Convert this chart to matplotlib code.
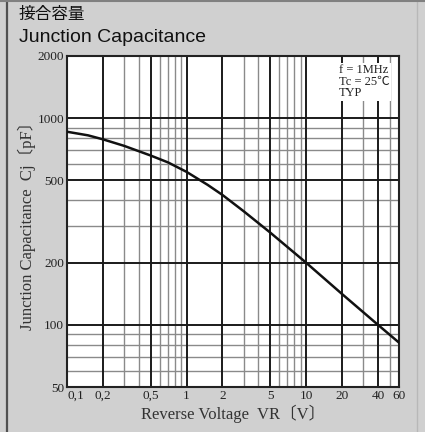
import matplotlib
matplotlib.use("Agg")
import matplotlib.pyplot as plt
from matplotlib.lines import Line2D

# Data
vr = [0.1, 0.15, 0.2, 0.3, 0.5, 0.7, 1, 1.5, 2, 3, 5, 10, 20, 40, 60]
cj = [860, 826, 790, 735, 660, 611, 550, 476, 425, 355, 280, 200, 141, 100, 82]

x_major = [0.2, 0.5, 1, 2, 5, 10, 20, 40]
x_minor = [0.3, 0.4, 0.6, 0.7, 0.8, 0.9, 3, 4, 6, 7, 8, 9, 30, 50]
y_major = [100, 200, 500, 1000]
y_minor = [60, 70, 80, 90, 300, 400, 600, 700, 800, 900]

x_ticks = [0.1, 0.2, 0.5, 1, 2, 5, 10, 20, 40, 60]
x_ticklabels = ["0,1", "0,2", "0,5", "1", "2", "5", "10", "20", "40", "60"]
y_ticks = [50, 100, 200, 500, 1000, 2000]
y_ticklabels = ["50", "100", "200", "500", "1000", "2000"]

W, H = 425, 432
fig = plt.figure(figsize=(W / 100, H / 100), dpi=100)
fig.patch.set_facecolor("#d0d0d0")

# Frame lines
fig.add_artist(Line2D([7 / W, 7 / W], [0, 1], color="#505050", lw=1.6, transform=fig.transFigure))
fig.add_artist(Line2D([417 / W, 417 / W], [0, 1], color="#b8b8b8", lw=1.0, transform=fig.transFigure))
fig.add_artist(Line2D([0, 1], [1 - 1 / H, 1 - 1 / H], color="#808080", lw=1.5, transform=fig.transFigure))

fig.text(19 / W, 1 - 14 / H, "接合容量", fontsize=12, family=["Noto Sans CJK JP"],
         va="center", ha="left", color="#111111")
fig.text(19 / W, 1 - 38 / H, "Junction Capacitance", fontsize=14, family=["Liberation Sans"],
         va="center", ha="left", color="#111111")

ax = fig.add_axes([67 / W, 1 - 387 / H, 332 / W, 331 / H])
ax.set_facecolor("white")
ax.set_xscale("log")
ax.set_yscale("log")
ax.set_xlim(0.1, 60)
ax.set_ylim(50, 2000)

for v in x_minor:
    ax.axvline(v, color="#8a8a8a", lw=1.0, zorder=1)
for v in y_minor:
    ax.axhline(v, color="#8a8a8a", lw=1.0, zorder=1)
for v in x_major:
    ax.axvline(v, color="#1a1a1a", lw=1.4, zorder=2)
for v in y_major:
    ax.axhline(v, color="#1a1a1a", lw=1.4, zorder=2)

ax.plot(vr, cj, color="#111111", lw=1.8, zorder=3, solid_capstyle="round")

ax.set_xticks(x_ticks)
ax.set_xticklabels(x_ticklabels)
ax.set_yticks(y_ticks)
ax.set_yticklabels(y_ticklabels)
ax.minorticks_off()
ax.tick_params(length=0, pad=2, labelsize=9.5, colors="#222222")
for lab in ax.get_xticklabels() + ax.get_yticklabels():
    lab.set_family(["Liberation Serif"])
ax.get_xticklabels()[0].set_horizontalalignment("left")
for s in ax.spines.values():
    s.set_linewidth(1.5)
    s.set_color("#222222")

ax.set_xlabel("Reverse Voltage  VR〔V〕", fontsize=12,
              family=["Liberation Serif", "Noto Sans CJK JP"], color="#333333", labelpad=2)
ax.set_ylabel("Junction Capacitance  Cj〔pF〕", fontsize=12,
              family=["Liberation Serif", "Noto Sans CJK JP"], color="#333333", labelpad=1)

ax.text(0.82, 0.975, "f = 1MHz\nTc = 25℃\nTYP", transform=ax.transAxes, fontsize=9,
        family=["Liberation Serif", "Noto Sans CJK JP"], va="top", ha="left",
        linespacing=0.95, color="#222222", zorder=5,
        bbox=dict(facecolor="white", edgecolor="none", pad=1))

fig.savefig("out.png", dpi=100, facecolor=fig.get_facecolor())
